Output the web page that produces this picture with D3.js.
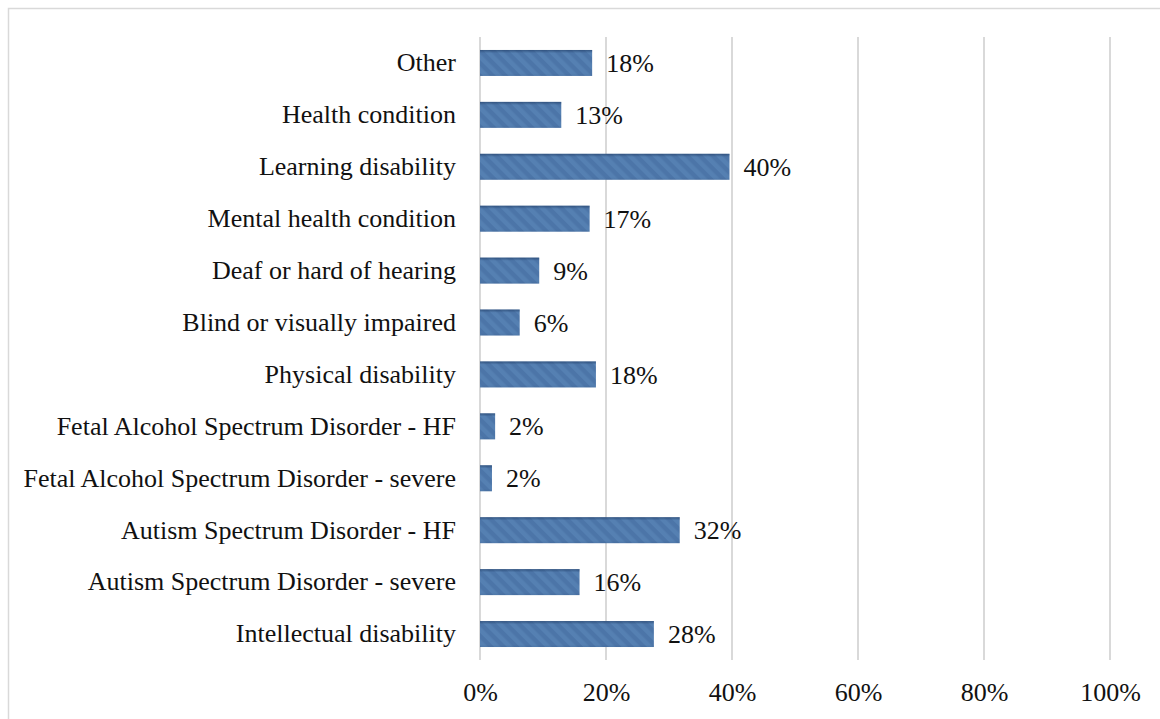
<!DOCTYPE html>
<html><head><meta charset="utf-8">
<script src="https://cdn.jsdelivr.net/npm/d3@7"></script>
<style>
html,body{margin:0;padding:0;background:#fff;}
svg{display:block;}
svg text{font-family:"Liberation Serif","Times New Roman","DejaVu Serif",serif !important;fill:#111;}
</style></head><body>
<svg id="c" width="1160" height="719"></svg>
<script>
const categories = [
  "Other",
  "Health condition",
  "Learning disability",
  "Mental health condition",
  "Deaf or hard of hearing",
  "Blind or visually impaired",
  "Physical disability",
  "Fetal Alcohol Spectrum Disorder - HF",
  "Fetal Alcohol Spectrum Disorder - severe",
  "Autism Spectrum Disorder - HF",
  "Autism Spectrum Disorder - severe",
  "Intellectual disability"
];
const values = [17.8, 12.9, 39.6, 17.4, 9.4, 6.3, 18.4, 2.4, 1.9, 31.7, 15.8, 27.6];
const valueLabels = ["18%","13%","40%","17%","9%","6%","18%","2%","2%","32%","16%","28%"];
const xTicks = [0, 20, 40, 60, 80, 100];

const svg = d3.select("#c");
const m = {left: 480, right: 50, top: 37, bottom: 59};
const W = 1160, H = 719;

// frame
svg.append("rect").attr("x", 8.5).attr("y", 8.5).attr("width", W + 10).attr("height", H + 10)
  .attr("fill", "none").attr("stroke", "#d9d9d9").attr("stroke-width", 1.5);

const x = d3.scaleLinear().domain([0, 100]).range([m.left, W - m.right]);
const y = d3.scaleBand().domain(categories).range([m.top, H - m.bottom]).paddingInner(0.5).paddingOuter(0.25);

// pattern
const defs = svg.append("defs");
const pat = defs.append("pattern").attr("id", "hatch").attr("patternUnits", "userSpaceOnUse")
  .attr("width", 9).attr("height", 9).attr("patternTransform", "rotate(-45)");
pat.append("rect").attr("width", 9).attr("height", 9).attr("fill", "#4c75a8");
pat.append("rect").attr("width", 4.5).attr("height", 9).attr("fill", "#5580b2");
const grad = defs.append("linearGradient").attr("id", "shade").attr("x1", 0).attr("y1", 0).attr("x2", 0).attr("y2", 1);
grad.append("stop").attr("offset", "0").attr("stop-color", "#1f3b63").attr("stop-opacity", 0.6);
grad.append("stop").attr("offset", "0.12").attr("stop-color", "#1f3b63").attr("stop-opacity", 0);
grad.append("stop").attr("offset", "0.9").attr("stop-color", "#1f3b63").attr("stop-opacity", 0);
grad.append("stop").attr("offset", "1").attr("stop-color", "#1f3b63").attr("stop-opacity", 0.12);

// gridlines
svg.append("g").selectAll("line").data(xTicks).join("line")
  .attr("x1", d => x(d)).attr("x2", d => x(d))
  .attr("y1", m.top).attr("y2", H - m.bottom)
  .attr("stroke", "#d9d9d9").attr("stroke-width", 2);

const FS = 26;

// x axis labels
const xAxis = d3.axisBottom(x).tickValues(xTicks).tickFormat(d => d + "%").tickSize(0).tickPadding(0);
const gx = svg.append("g").attr("transform", `translate(0,${H - m.bottom})`).call(xAxis);
gx.attr("font-family", null);
gx.select(".domain").remove();
gx.selectAll("text").attr("dy", null).attr("y", 41).style("font-size", FS + "px").attr("fill", "#111");

// y axis labels
const yAxis = d3.axisLeft(y).tickSize(0).tickPadding(24);
const gy = svg.append("g").attr("transform", `translate(${m.left},0)`).call(yAxis);
gy.attr("font-family", null);
gy.select(".domain").remove();
gy.selectAll("text").style("font-size", FS + "px").attr("dy", "0.32em").attr("fill", "#111");

// bars
const bars = svg.append("g");
bars.selectAll("rect.b").data(categories).join("rect").attr("class", "b")
  .attr("x", x(0)).attr("y", d => y(d)).attr("width", (d, i) => x(values[i]) - x(0))
  .attr("height", y.bandwidth()).attr("fill", "url(#hatch)");
bars.selectAll("rect.s").data(categories).join("rect").attr("class", "s")
  .attr("x", x(0)).attr("y", d => y(d)).attr("width", (d, i) => x(values[i]) - x(0))
  .attr("height", y.bandwidth()).attr("fill", "url(#shade)");

// value labels
svg.append("g").selectAll("text").data(categories).join("text")
  .attr("x", (d, i) => x(values[i]) + 14).attr("y", d => y(d) + y.bandwidth() / 2)
  .attr("dy", "0.35em").style("font-size", FS + "px")
  .text((d, i) => valueLabels[i]);
</script>
</body></html>
